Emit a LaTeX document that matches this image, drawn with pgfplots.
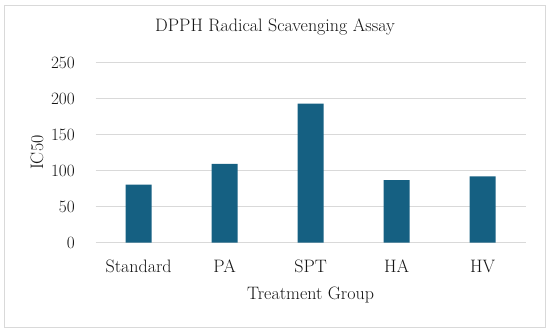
\documentclass[border=0pt]{standalone}
\usepackage{pgfplots}
\pgfplotsset{compat=1.18}
\definecolor{barc}{HTML}{156082}
\definecolor{gridc}{HTML}{D9D9D9}
\definecolor{txt}{HTML}{141414}
\begin{document}
\begin{tikzpicture}[x=1pt,y=1pt]
\path[use as bounding box] (0,0) rectangle (550,332);
\draw[gridc, line width=0.8pt] (4,5) rectangle (545,327);
\begin{axis}[
  at={(95.6pt,89.3pt)}, anchor=south west,
  scale only axis, width=430pt, height=180pt,
  xmin=-0.5, xmax=4.5, ymin=0, ymax=250,
  ytick={0,50,...,250},
  xtick={0,1,2,3,4},
  xticklabels={Standard,PA,SPT,HA,HV},
  axis line style={draw=none},
  axis x line*=bottom,
  major tick length=0pt,
  ymajorgrids, grid style={gridc, line width=0.8pt},
  tick label style={font=\fontsize{18}{21}\selectfont, text=txt},
  yticklabel style={anchor=east, inner sep=0pt, xshift=-20.6pt},
  xticklabel style={anchor=base, inner sep=0pt, yshift=-30.3pt},
  label style={font=\fontsize{18}{21}\selectfont, text=txt},
  xlabel={Treatment Group},
  ylabel={IC50},
  xlabel style={at={(axis description cs:0.5,-0.318)}, anchor=base, inner sep=0pt},
  ylabel style={at={(axis description cs:-0.1223,0.5)}, anchor=base, rotate=0, inner sep=0pt},
  title={DPPH Radical Scavenging Assay},
  title style={at={(axis description cs:0.4172,1.141)}, anchor=base, inner sep=0pt, font=\fontsize{18}{21}\selectfont, text=txt},
  clip=false,
]
\addplot[ybar, bar width=26pt, fill=barc, draw=none] coordinates {
  (0,80.5) (1,109.5) (2,193) (3,87) (4,92)
};
\end{axis}
\end{tikzpicture}
\end{document}
